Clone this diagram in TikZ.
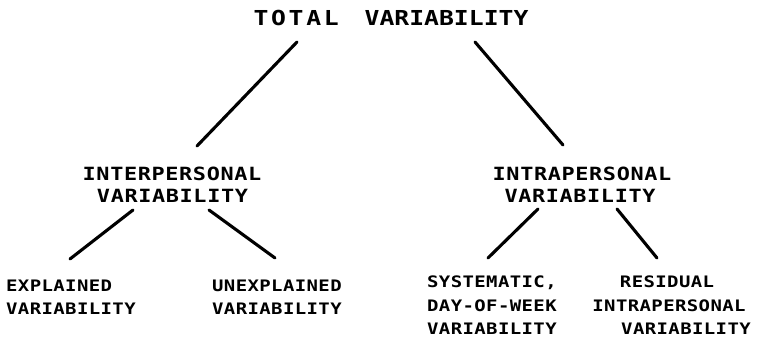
\documentclass[tikz,border=0pt]{standalone}
\usepackage{fontspec}
\newfontfamily\ftop{DejaVu Sans Mono}[FakeStretch=1.2]
\newfontfamily\fmid{DejaVu Sans Mono}[FakeStretch=1.2, LetterSpace=3.5]
\newfontfamily\fbot{DejaVu Sans Mono}[FakeStretch=1.2, LetterSpace=2.5]
\tikzset{
  toplabel/.style={inner sep=0pt, anchor=base, font=\ftop\bfseries\fontsize{20.6}{24}\selectfont},
  midlabel/.style={inner sep=0pt, anchor=base, font=\fmid\bfseries\fontsize{18.2}{22}\selectfont},
  botlabel/.style={inner sep=0pt, anchor=base west, font=\fbot\bfseries\fontsize{15.8}{19}\selectfont},
  botcenter/.style={botlabel, anchor=base},
  branch/.style={line width=3.1pt, line cap=round}
}
\begin{document}
\begin{tikzpicture}[x=1pt,y=1pt]
\useasboundingbox (0,0) rectangle (758,344);
% labels
\node[toplabel] (tv) at (391,318) {{\addfontfeature{LetterSpace=13}TOTAL}\hspace{26pt}VARIABILITY};
\node[midlabel] (inter1) at (172,163) {INTERPERSONAL};
\node[midlabel] (inter2) at (172.5,141) {VARIABILITY};
\node[midlabel] (intra1) at (582,163) {INTRAPERSONAL};
\node[midlabel] (intra2) at (580,141) {VARIABILITY};
\node[botlabel] (expl1) at (6,52) {EXPLAINED};
\node[botlabel] (expl2) at (6,29) {VARIABILITY};
\node[botlabel] (unex1) at (212,52) {UNEXPLAINED};
\node[botlabel] (unex2) at (212,29) {VARIABILITY};
\node[botlabel] (sys1) at (427,56) {SYSTEMATIC,};
\node[botlabel] (sys2) at (427,32) {DAY-OF-WEEK};
\node[botlabel] (sys3) at (427,9) {VARIABILITY};
\node[botcenter] (res1) at (667,56) {RESIDUAL};
\node[botcenter] (res2) at (669,32) {INTRAPERSONAL};
\node[botcenter] (res3) at (686,9) {VARIABILITY};
% connector end points
\coordinate (c1a) at (297,302); \coordinate (c1b) at (197,198);
\coordinate (c2a) at (475,302); \coordinate (c2b) at (563,199);
\coordinate (c3a) at (133,134); \coordinate (c3b) at (70,85);
\coordinate (c4a) at (209,134); \coordinate (c4b) at (275,86);
\coordinate (c5a) at (538,135); \coordinate (c5b) at (488,86);
\coordinate (c6a) at (617,135); \coordinate (c6b) at (657,86);
\draw[branch] (c1a) -- (c1b);
\draw[branch] (c2a) -- (c2b);
\draw[branch] (c3a) -- (c3b);
\draw[branch] (c4a) -- (c4b);
\draw[branch] (c5a) -- (c5b);
\draw[branch] (c6a) -- (c6b);
\end{tikzpicture}
\end{document}
